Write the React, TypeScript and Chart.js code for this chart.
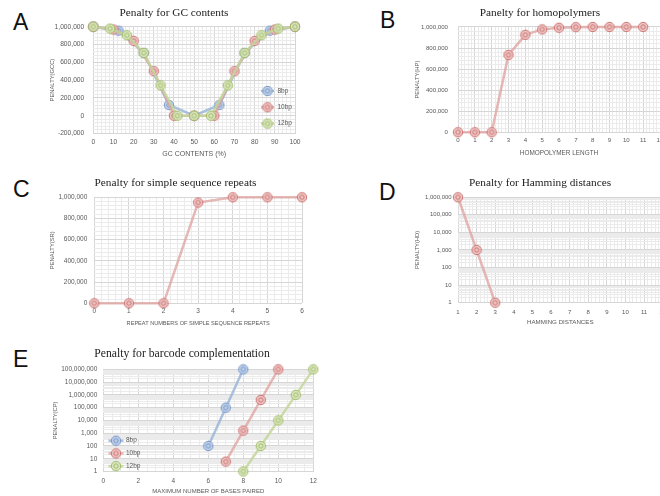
import React, { useEffect, useRef } from 'react';
import { Chart, registerables } from 'chart.js';
Chart.register(...registerables);

// ---------- Panel A: GC contents ----------
const gcX8 = [0, 12.5, 25, 37.5, 50, 62.5, 75, 87.5, 100];
const gcY8 = [1000000, 955000, 705000, 120000, 0, 120000, 705000, 955000, 1000000];
const gcX10 = [0, 10, 20, 30, 40, 50, 60, 70, 80, 90, 100];
const gcY10 = [1000000, 968000, 840000, 500000, 0, 0, 0, 500000, 840000, 968000, 1000000];
const gcX12 = [0, 8.33, 16.67, 25, 33.33, 41.67, 50, 58.33, 66.67, 75, 83.33, 91.67, 100];
const gcY12 = [1000000, 978000, 903000, 705000, 340000, 0, 0, 0, 340000, 705000, 903000, 978000, 1000000];
const aXTicks = [0, 10, 20, 30, 40, 50, 60, 70, 80, 90, 100];
const aYTicks = [-200000, 0, 200000, 400000, 600000, 800000, 1000000];

// ---------- Panel B: homopolymers ----------
const hpX = [0, 1, 2, 3, 4, 5, 6, 7, 8, 9, 10, 11];
const hpY = [0, 0, 0, 735000, 925000, 977000, 993000, 998000, 1000000, 1000000, 1000000, 1000000];
const bXTicks = [0, 1, 2, 3, 4, 5, 6, 7, 8, 9, 10, 11, 12];
const bYTicks = [0, 200000, 400000, 600000, 800000, 1000000];

// ---------- Panel C: simple sequence repeats ----------
const ssrX = [0, 1, 2, 3, 4, 5, 6];
const ssrY = [0, 0, 0, 950000, 1000000, 1000000, 1000000];
const cXTicks = [0, 1, 2, 3, 4, 5, 6];
const cYTicks = [0, 200000, 400000, 600000, 800000, 1000000];

// ---------- Panel D: Hamming distances ----------
const hdX = [1, 2, 3];
const hdY = [1000000, 1000, 1];
const dXTicks = [1, 2, 3, 4, 5, 6, 7, 8, 9, 10, 11, 12];
const dYTicks = [1, 10, 100, 1000, 10000, 100000, 1000000];

// ---------- Panel E: barcode complementation ----------
const cpX8 = [6, 7, 8];
const cpY8 = [100, 100000, 100000000];
const cpX10 = [7, 8, 9, 10];
const cpY10 = [6, 1600, 400000, 100000000];
const cpX12 = [8, 9, 10, 11, 12];
const cpY12 = [1, 100, 10000, 1000000, 100000000];
const eXTicks = [0, 2, 4, 6, 8, 10, 12];
const eYTicks = [1, 10, 100, 1000, 10000, 100000, 1000000, 10000000, 100000000];

const SANS = '"Liberation Sans", Arial, sans-serif';
const SERIF = '"Liberation Serif", "Times New Roman", serif';
const TXT = '#595959';
const MAJ = '#d6d6d6';
const MIN = '#ebebeb';

const BLUE = { line: 'rgba(149,179,215,0.8)', fill: 'rgba(190,208,232,0.95)', stroke: 'rgb(118,150,200)' };
const RED = { line: 'rgba(221,160,158,0.75)', fill: 'rgba(236,196,195,0.95)', stroke: 'rgb(205,115,112)' };
const GREEN = { line: 'rgba(195,214,155,0.85)', fill: 'rgba(218,230,193,0.95)', stroke: 'rgb(160,188,100)' };

function makeMarker(c: { fill: string; stroke: string }) {
  const cv = document.createElement('canvas');
  cv.width = 12;
  cv.height = 12;
  const g = cv.getContext('2d')!;
  g.beginPath();
  g.arc(6, 6, 4.7, 0, Math.PI * 2);
  g.fillStyle = c.fill;
  g.fill();
  g.lineWidth = 1;
  g.strokeStyle = c.stroke;
  g.stroke();
  g.beginPath();
  g.arc(6, 6, 2.2, 0, Math.PI * 2);
  g.stroke();
  return cv;
}

const near = (arr: number[], v: number) => arr.some((a) => Math.abs(a - v) <= Math.abs(a) * 1e-9 + 1e-9);

function linTicks(min: number, max: number, step: number) {
  const out: { value: number }[] = [];
  const n = Math.round((max - min) / step);
  for (let i = 0; i <= n; i++) out.push({ value: +(min + i * step).toFixed(6) });
  return out;
}
function logTicks(major: number[]) {
  const out: { value: number }[] = [];
  for (let i = 0; i < major.length - 1; i++) for (let m = 1; m <= 9; m++) out.push({ value: major[i] * m });
  out.push({ value: major[major.length - 1] });
  return out;
}

type Series = { label: string; xs: number[]; ys: number[]; color: typeof RED; order: number };
type Spec = {
  left: number; top: number; width: number; height: number;
  title: string; titleSize: number; titlePadTop: number; titlePadBottom: number;
  xMin: number; xMax: number; xMajor: number[]; xMinor: number; xTickSize: number; xTickPad: number;
  xTitle: string; xTitleSize: number; xScaleH: number;
  yLog: boolean; yMin: number; yMax: number; yMajor: number[]; yMinor: number; yTickSize: number; yTickPad: number;
  yTitle: string; yTitleSize: number; yTitlePad: number; yScaleW: number;
  rightPad: number;
  series: Series[];
  legend?: { x: number; y: number; dy: number; half: number; gap: number; size: number };
};

function buildConfig(s: Spec): any {
  const markers = s.series.map((se) => makeMarker(se.color));
  const plugins: any[] = [];
  if (s.legend) {
    const L = s.legend;
    plugins.push({
      id: 'insideLegend',
      afterDraw(chart: any) {
        const ctx = chart.ctx;
        ctx.save();
        s.series.forEach((se, i) => {
          const y = L.y + i * L.dy;
          ctx.strokeStyle = se.color.line;
          ctx.lineWidth = 2.5;
          ctx.beginPath();
          ctx.moveTo(L.x - L.half, y);
          ctx.lineTo(L.x + L.half, y);
          ctx.stroke();
          ctx.drawImage(markers[i], L.x - 6, y - 6);
          ctx.fillStyle = TXT;
          ctx.font = `${L.size}px ${SANS}`;
          ctx.textAlign = 'left';
          ctx.textBaseline = 'middle';
          ctx.fillText(chart.data.datasets[i].label, L.x + L.gap, y);
        });
        ctx.restore();
      },
    });
  }
  return {
    type: 'line',
    data: {
      datasets: s.series.map((se, i) => ({
        label: se.label,
        data: se.xs.map((x, j) => ({ x, y: se.ys[j] })),
        borderColor: se.color.line,
        borderWidth: 2.5,
        pointStyle: markers[i],
        pointRadius: 5,
        tension: 0,
        fill: false,
        clip: false,
        order: se.order,
      })),
    },
    plugins,
    options: {
      responsive: false,
      animation: false,
      events: [],
      layout: { padding: 0 },
      plugins: {
        legend: { display: false },
        tooltip: { enabled: false },
        title: {
          display: true,
          text: s.title,
          color: '#222222',
          font: { family: SERIF, size: s.titleSize, weight: 'normal' },
          padding: { top: s.titlePadTop, bottom: s.titlePadBottom },
        },
      },
      scales: {
        x: {
          type: 'linear',
          position: 'bottom',
          min: s.xMin,
          max: s.xMax,
          afterBuildTicks: (a: any) => { a.ticks = linTicks(s.xMin, s.xMax, s.xMinor); },
          afterFit: (a: any) => { a.height = s.xScaleH; },
          grid: { color: (c: any) => (c.tick && near(s.xMajor, c.tick.value) ? MAJ : MIN), drawTicks: false, lineWidth: 1 },
          border: { display: false },
          ticks: {
            autoSkip: false, maxRotation: 0, minRotation: 0, padding: s.xTickPad, color: TXT,
            font: { family: SANS, size: s.xTickSize },
            callback: (v: number) => (near(s.xMajor, v) ? String(v) : ''),
          },
          title: { display: true, text: s.xTitle, color: TXT, font: { family: SANS, size: s.xTitleSize }, padding: { top: 0, bottom: 0 } },
        },
        y: {
          type: s.yLog ? 'logarithmic' : 'linear',
          position: 'left',
          min: s.yMin,
          max: s.yMax,
          afterBuildTicks: (a: any) => { a.ticks = s.yLog ? logTicks(s.yMajor) : linTicks(s.yMin, s.yMax, s.yMinor); },
          afterFit: (a: any) => { a.width = s.yScaleW; },
          grid: { color: (c: any) => (c.tick && near(s.yMajor, c.tick.value) ? MAJ : MIN), drawTicks: false, lineWidth: 1 },
          border: { display: false },
          ticks: {
            autoSkip: false, padding: s.yTickPad, color: TXT,
            font: { family: SANS, size: s.yTickSize },
            callback: (v: number) => (near(s.yMajor, v) ? Number(v).toLocaleString('en-US') : ''),
          },
          title: { display: true, text: s.yTitle, color: TXT, font: { family: SANS, size: s.yTitleSize }, padding: { top: s.yTitlePad, bottom: 0 } },
        },
        pad: {
          type: 'linear',
          position: 'right',
          display: true,
          grid: { display: false, drawTicks: false },
          border: { display: false },
          ticks: { display: false },
          afterFit: (a: any) => { a.width = s.rightPad; },
        },
      },
    },
  };
}

const specs: Spec[] = [
  {
    left: 40, top: 0, width: 268, height: 158,
    title: 'Penalty for GC contents', titleSize: 11.3, titlePadTop: 6.4, titlePadBottom: 6.7,
    xMin: 0, xMax: 100, xMajor: aXTicks, xMinor: 2, xTickSize: 6.7, xTickPad: 4.5,
    xTitle: 'GC CONTENTS (%)', xTitleSize: 7, xScaleH: 24.5,
    yLog: false, yMin: -200000, yMax: 1000000, yMajor: aYTicks, yMinor: 40000, yTickSize: 6.7, yTickPad: 9,
    yTitle: 'PENALTY(GCC)', yTitleSize: 5.8, yTitlePad: 8.5, yScaleW: 53.3,
    rightPad: 13,
    series: [
      { label: '8bp', xs: gcX8, ys: gcY8, color: BLUE, order: 2 },
      { label: '10bp', xs: gcX10, ys: gcY10, color: RED, order: 1 },
      { label: '12bp', xs: gcX12, ys: gcY12, color: GREEN, order: 0 },
    ],
    legend: { x: 227.5, y: 91, dy: 16.3, half: 6.5, gap: 10, size: 6.5 },
  },
  {
    left: 400, top: 0, width: 280, height: 157,
    title: 'Panelty for homopolymers', titleSize: 11.3, titlePadTop: 6.5, titlePadBottom: 6.9,
    xMin: 0, xMax: 12, xMajor: bXTicks, xMinor: 0.2, xTickSize: 6.1, xTickPad: 4.7,
    xTitle: 'HOMOPOLYMER LENGTH', xTitleSize: 6.4, xScaleH: 24.7,
    yLog: false, yMin: 0, yMax: 1000000, yMajor: bYTicks, yMinor: 40000, yTickSize: 6.1, yTickPad: 10,
    yTitle: 'PENALTY(HP)', yTitleSize: 5.8, yTitlePad: 13.8, yScaleW: 58,
    rightPad: 20,
    series: [{ label: 'HP', xs: hpX, ys: hpY, color: RED, order: 0 }],
  },
  {
    left: 40, top: 160, width: 271, height: 167,
    title: 'Penalty for simple sequence repeats', titleSize: 11.3, titlePadTop: 16.5, titlePadBottom: 7.2,
    xMin: 0, xMax: 6, xMajor: cXTicks, xMinor: 0.2, xTickSize: 6.5, xTickPad: 3.8,
    xTitle: 'REPEAT NUMBERS OF SIMPLE SEQUENCE REPEATS', xTitleSize: 5.6, xScaleH: 23.7,
    yLog: false, yMin: 0, yMax: 1000000, yMajor: cYTicks, yMinor: 40000, yTickSize: 6.5, yTickPad: 7,
    yTitle: 'PENALTY(SR)', yTitleSize: 5.8, yTitlePad: 8.5, yScaleW: 54.3,
    rightPad: 9,
    series: [{ label: 'SR', xs: ssrX, ys: ssrY, color: RED, order: 0 }],
  },
  {
    left: 400, top: 160, width: 280, height: 166,
    title: 'Penalty for Hamming distances', titleSize: 11.3, titlePadTop: 15.9, titlePadBottom: 7.8,
    xMin: 1, xMax: 12, xMajor: dXTicks, xMinor: 0.2, xTickSize: 6, xTickPad: 6,
    xTitle: 'HAMMING DISTANCES', xTitleSize: 6.2, xScaleH: 23.3,
    yLog: true, yMin: 1, yMax: 1000000, yMajor: dYTicks, yMinor: 0, yTickSize: 6, yTickPad: 6.3,
    yTitle: 'PENALTY(HD)', yTitleSize: 5.8, yTitlePad: 13.8, yScaleW: 58,
    rightPad: 17.4,
    series: [{ label: 'HD', xs: hdX, ys: hdY, color: RED, order: 0 }],
  },
  {
    left: 40, top: 320, width: 284, height: 175,
    title: 'Penalty for barcode complementation', titleSize: 11.7, titlePadTop: 27, titlePadBottom: 8.3,
    xMin: 0, xMax: 12, xMajor: eXTicks, xMinor: 0.5, xTickSize: 6.5, xTickPad: 5.6,
    xTitle: 'MAXIMUM NUMBER OF BASES PAIRED', xTitleSize: 6, xScaleH: 23.5,
    yLog: true, yMin: 1, yMax: 100000000, yMajor: eYTicks, yMinor: 0, yTickSize: 6.5, yTickPad: 6,
    yTitle: 'PENALTY(CP)', yTitleSize: 5.8, yTitlePad: 11.5, yScaleW: 63.3,
    rightPad: 10.7,
    series: [
      { label: '8bp', xs: cpX8, ys: cpY8, color: BLUE, order: 2 },
      { label: '10bp', xs: cpX10, ys: cpY10, color: RED, order: 1 },
      { label: '12bp', xs: cpX12, ys: cpY12, color: GREEN, order: 0 },
    ],
    legend: { x: 76, y: 120.7, dy: 12.7, half: 7.5, gap: 10, size: 6.5 },
  },
];

const letters = [
  { t: 'A', left: 13, top: 11 },
  { t: 'B', left: 380, top: 9 },
  { t: 'C', left: 13, top: 178 },
  { t: 'D', left: 379, top: 181 },
  { t: 'E', left: 13, top: 348 },
];

function Panel({ spec }: { spec: Spec }) {
  const ref = useRef<HTMLCanvasElement>(null);
  useEffect(() => {
    const chart = new Chart(ref.current!, buildConfig(spec));
    return () => chart.destroy();
  }, [spec]);
  return (
    <div style={{ position: 'absolute', left: spec.left, top: spec.top, width: spec.width, height: spec.height }}>
      <canvas ref={ref} width={spec.width} height={spec.height} style={{ display: 'block' }} />
    </div>
  );
}

export default function App() {
  return (
    <div style={{ position: 'fixed', left: 0, top: 0, width: 660, height: 496, overflow: 'hidden', background: '#ffffff' }}>
      {letters.map((l) => (
        <div
          key={l.t}
          style={{ position: 'absolute', left: l.left, top: l.top, fontFamily: SANS, fontSize: 23, lineHeight: '23px', color: '#111' }}
        >
          {l.t}
        </div>
      ))}
      {specs.map((s, i) => (
        <Panel key={i} spec={s} />
      ))}
    </div>
  );
}
